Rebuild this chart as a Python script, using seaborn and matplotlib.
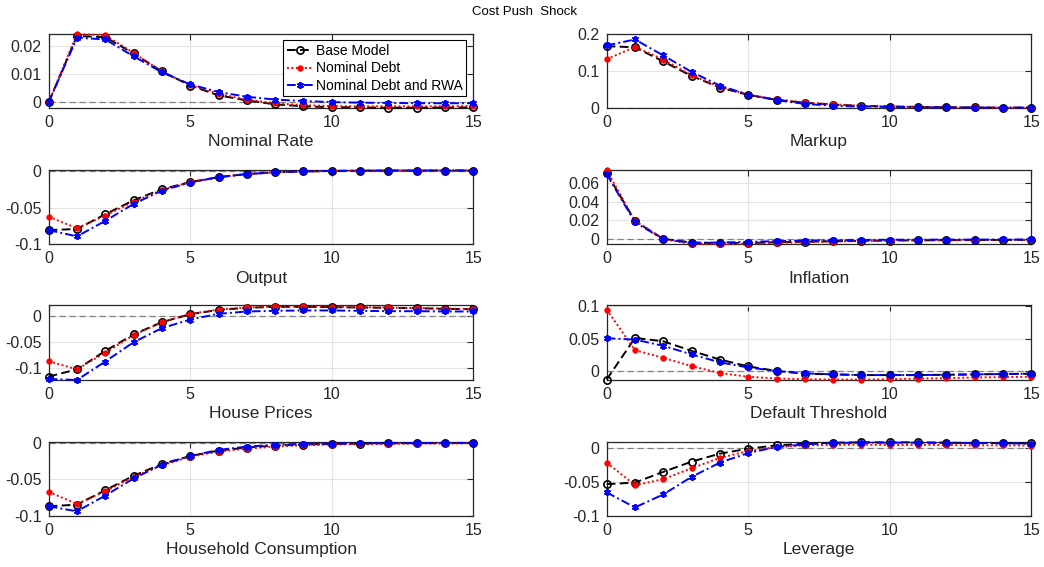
import matplotlib
matplotlib.use("Agg")
import matplotlib.pyplot as plt
import numpy as np
import pandas as pd
import seaborn as sns

# Impulse responses to a cost push shock, quarters 0..15
horizon = list(range(16))
models = ["Base Model", "Nominal Debt", "Nominal Debt and RWA"]

nominal_rate_base = [0, 0.0236, 0.0232, 0.0174, 0.0110, 0.0060, 0.0025, 0.0007, -0.0007, -0.0014, -0.0017, -0.0018, -0.0019, -0.0019, -0.0018, -0.0018]
nominal_rate_debt = [0, 0.0243, 0.0239, 0.0176, 0.0110, 0.0062, 0.0030, 0.0010, -0.0003, -0.0010, -0.0013, -0.0014, -0.0014, -0.0014, -0.0014, -0.0013]
nominal_rate_rwa = [0, 0.0230, 0.0224, 0.0164, 0.0107, 0.0064, 0.0037, 0.0020, 0.0010, 0.0005, 0.0001, -0.0001, -0.0002, -0.0003, -0.0003, -0.0003]

markup_base = [0.166, 0.163, 0.125, 0.086, 0.055, 0.035, 0.022, 0.014, 0.009, 0.006, 0.004, 0.003, 0.002, 0.0015, 0.001, 0.001]
markup_debt = [0.131, 0.164, 0.130, 0.088, 0.057, 0.036, 0.023, 0.015, 0.010, 0.006, 0.004, 0.003, 0.002, 0.0015, 0.001, 0.001]
markup_rwa = [0.168, 0.184, 0.141, 0.097, 0.060, 0.036, 0.021, 0.011, 0.006, 0.004, 0.003, 0.002, 0.0015, 0.001, 0.001, 0.001]

output_base = [-0.0805, -0.079, -0.059, -0.040, -0.025, -0.0155, -0.0086, -0.0045, -0.0023, -0.0010, -0.0003, 0.0, 0.0002, 0.0002, 0.0003, 0.0003]
output_debt = [-0.0623, -0.078, -0.061, -0.042, -0.026, -0.0155, -0.0086, -0.0045, -0.0023, -0.0010, -0.0003, 0.0, 0.0002, 0.0002, 0.0003, 0.0003]
output_rwa = [-0.0805, -0.089, -0.068, -0.045, -0.027, -0.0160, -0.0088, -0.0045, -0.0022, -0.0010, -0.0003, 0.0, 0.0002, 0.0002, 0.0003, 0.0003]

inflation_base = [0.0704, 0.0191, 0.0004, -0.0035, -0.0042, -0.0040, -0.0032, -0.0028, -0.0021, -0.0018, -0.0014, -0.0012, -0.0010, -0.0009, -0.0008, -0.0007]
inflation_debt = [0.0733, 0.0195, 0.0003, -0.0050, -0.0053, -0.0046, -0.0039, -0.0032, -0.0025, -0.0020, -0.0016, -0.0013, -0.0011, -0.0009, -0.0008, -0.0007]
inflation_rwa = [0.0690, 0.0180, 0.0000, -0.0039, -0.0035, -0.0028, -0.0021, -0.0014, -0.0011, -0.0008, -0.0006, -0.0005, -0.0004, -0.0004, -0.0003, -0.0003]

house_prices_base = [-0.116, -0.102, -0.0667, -0.035, -0.0115, 0.0038, 0.012, 0.016, 0.018, 0.018, 0.0173, 0.0167, 0.016, 0.0154, 0.014, 0.0135]
house_prices_debt = [-0.0865, -0.102, -0.070, -0.0365, -0.0115, 0.0045, 0.0128, 0.0167, 0.0186, 0.0186, 0.018, 0.0173, 0.0167, 0.0154, 0.0147, 0.0135]
house_prices_rwa = [-0.1205, -0.1225, -0.087, -0.050, -0.023, -0.0064, 0.0045, 0.009, 0.0103, 0.011, 0.011, 0.0103, 0.0096, 0.0096, 0.009, 0.009]

default_threshold_base = [-0.0133, 0.051, 0.0457, 0.031, 0.0176, 0.0069, 0.0, -0.0043, -0.0053, -0.0064, -0.0064, -0.0064, -0.0059, -0.0053, -0.0048, -0.0043]
default_threshold_debt = [0.0947, 0.032, 0.0202, 0.0074, -0.0032, -0.009, -0.0117, -0.0128, -0.0133, -0.0133, -0.0128, -0.0117, -0.0112, -0.0101, -0.0096, -0.009]
default_threshold_rwa = [0.0505, 0.0484, 0.0388, 0.0255, 0.0133, 0.0053, 0.0, -0.0037, -0.0053, -0.0064, -0.0064, -0.0064, -0.0059, -0.0053, -0.0048, -0.0043]

consumption_base = [-0.0868, -0.0845, -0.0648, -0.0452, -0.0292, -0.0183, -0.011, -0.0068, -0.0041, -0.0027, -0.0018, -0.0014, -0.0009, -0.0008, -0.0006, -0.0005]
consumption_debt = [-0.0671, -0.0836, -0.0662, -0.0466, -0.031, -0.0192, -0.0123, -0.0082, -0.0055, -0.0037, -0.0027, -0.0023, -0.0018, -0.0014, -0.0014, -0.0009]
consumption_rwa = [-0.0868, -0.0936, -0.0721, -0.0489, -0.0301, -0.0183, -0.010, -0.0055, -0.0032, -0.0018, -0.0014, -0.0009, -0.0007, -0.0006, -0.0005, -0.0005]

leverage_base = [-0.0534, -0.051, -0.0354, -0.0204, -0.0087, -0.0015, 0.0034, 0.0058, 0.0073, 0.0078, 0.0078, 0.0078, 0.0073, 0.0068, 0.0068, 0.0063]
leverage_debt = [-0.0218, -0.0549, -0.0461, -0.0301, -0.015, -0.0049, 0.001, 0.0034, 0.0039, 0.0044, 0.0039, 0.0039, 0.0039, 0.0034, 0.0034, 0.0029]
leverage_rwa = [-0.0655, -0.0874, -0.0684, -0.0427, -0.0218, -0.0078, 0.001, 0.0049, 0.0068, 0.0073, 0.0073, 0.0073, 0.0068, 0.0068, 0.0063, 0.0058]

panel_titles = ["Nominal Rate", "Markup", "Output", "Inflation",
                "House Prices", "Default Threshold", "Household Consumption", "Leverage"]
panel_series = [
    (nominal_rate_base, nominal_rate_debt, nominal_rate_rwa),
    (markup_base, markup_debt, markup_rwa),
    (output_base, output_debt, output_rwa),
    (inflation_base, inflation_debt, inflation_rwa),
    (house_prices_base, house_prices_debt, house_prices_rwa),
    (default_threshold_base, default_threshold_debt, default_threshold_rwa),
    (consumption_base, consumption_debt, consumption_rwa),
    (leverage_base, leverage_debt, leverage_rwa),
]
y_limits = [(-0.002, 0.0245), (0, 0.2), (-0.1, 0.001), (-0.0056, 0.0735),
            (-0.1225, 0.0205), (-0.014, 0.101), (-0.1, 0.0014), (-0.1, 0.009)]
y_ticks = [[0, 0.01, 0.02], [0, 0.1, 0.2], [-0.1, -0.05, 0], [0, 0.02, 0.04, 0.06],
           [-0.1, -0.05, 0], [0, 0.05, 0.1], [-0.1, -0.05, 0], [-0.1, -0.05, 0]]
x_ticks = [0, 5, 10, 15]

sns.set_theme(style="whitegrid")
plt.rcParams["font.family"] = ["Liberation Sans", "DejaVu Sans"]
plt.rcParams["axes.unicode_minus"] = False

ink = "#262626"
line_styles = {
    "Base Model": dict(color="black", linestyle=(0, (4.5, 2.2)), marker="o",
                       markersize=5.2, markerfacecolor="none", markeredgecolor="black",
                       markeredgewidth=1.2),
    "Nominal Debt": dict(color="red", linestyle=(0, (1.0, 1.3)), marker="o",
                         markersize=4.0, markerfacecolor="red", markeredgecolor="red",
                         markeredgewidth=0.5),
    "Nominal Debt and RWA": dict(color="blue", linestyle=(0, (4.5, 1.6, 1.0, 1.6)),
                                 marker=(6, 2, 0), markersize=5.0,
                                 markerfacecolor="blue", markeredgecolor="blue",
                                 markeredgewidth=1.3),
}

fig = plt.figure(figsize=(10.44, 5.67), dpi=100)
col_left = [0.0466, 0.5811]
row_bottom = [0.8095, 0.5688, 0.3298, 0.0899]
ax_w, ax_h = 0.4068, 0.1314

for i, (title, series) in enumerate(zip(panel_titles, panel_series)):
    r, c = divmod(i, 2)
    ax = fig.add_axes([col_left[c], row_bottom[r], ax_w, ax_h])
    ax.axhline(0, color="#808080", linestyle=(0, (5, 3)), linewidth=0.9, zorder=1)
    for model, values in zip(models, series):
        df = pd.DataFrame({"t": horizon, "v": values})
        sns.lineplot(data=df, x="t", y="v", ax=ax, errorbar=None, linewidth=1.4,
                     label=model if i == 0 else None, legend=False,
                     zorder=3, clip_on=False, **line_styles[model])
    ax.set_xlim(0, 15)
    ax.set_ylim(*y_limits[i])
    ax.set_xticks(x_ticks)
    ax.set_yticks(y_ticks[i])
    ax.yaxis.set_major_formatter(matplotlib.ticker.FormatStrFormatter("%g"))
    ax.set_ylabel("")
    ax.set_xlabel(title, fontsize=12.5, color=ink, labelpad=3)
    ax.grid(True, color="#e3e3e3", linewidth=0.8)
    ax.set_facecolor("white")
    for sp in ax.spines.values():
        sp.set_color(ink)
        sp.set_linewidth(0.9)
        sp.set_zorder(2.5)
    ax.tick_params(direction="in", top=True, right=True, length=4, width=0.8,
                   color=ink, labelcolor=ink, labelsize=11.5, pad=5)
    if i == 0:
        leg = ax.legend(loc="upper right", fontsize=10, frameon=True, fancybox=False,
                        framealpha=1, edgecolor="black", handlelength=1.9,
                        handletextpad=0.2, labelspacing=0.25, borderpad=0.25)
        leg.get_frame().set_linewidth(0.8)
        leg.set_zorder(10)
        for t in leg.get_texts():
            t.set_color("black")

fig.text(0.502, 0.979, "Cost Push  Shock", ha="center", va="center",
         fontsize=9.5, color="black")

fig.savefig("out.png", dpi=100)
